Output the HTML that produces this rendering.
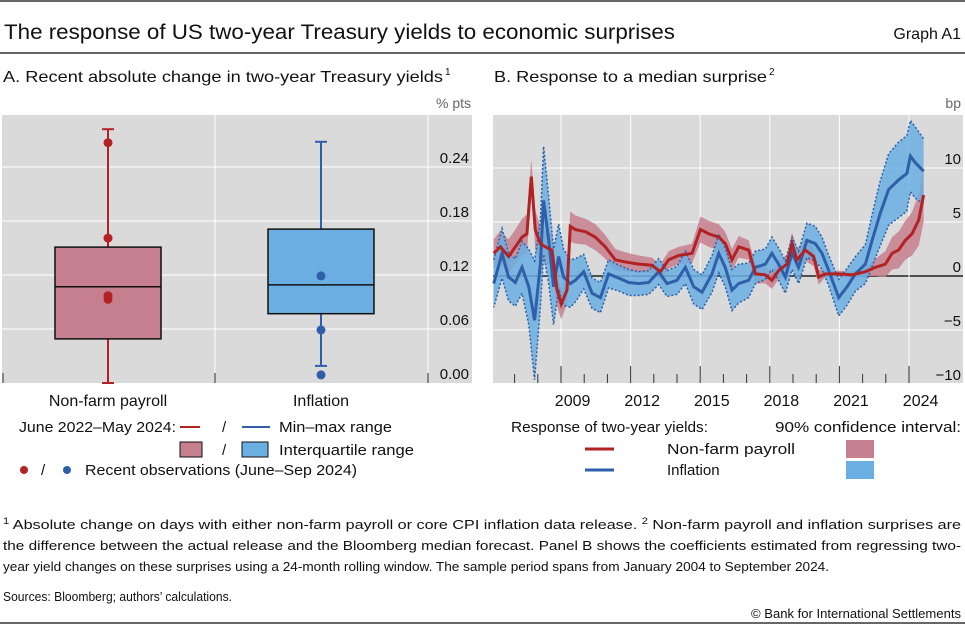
<!DOCTYPE html>
<html><head><meta charset="utf-8"><style>
body{margin:0;background:#fff}
svg{display:block;font-family:"Liberation Sans",sans-serif}
</style></head><body>
<svg id="c" width="965" height="625" viewBox="0 0 965 625">
<line x1="0" y1="1" x2="965" y2="1" stroke="#333" stroke-width="1.5"/>
<text x="4" y="39" font-size="21" textLength="671" lengthAdjust="spacingAndGlyphs" fill="#111">The response of US two-year Treasury yields to economic surprises</text>
<text x="961" y="39" font-size="16" text-anchor="end" fill="#111">Graph A1</text>
<line x1="0" y1="53" x2="965" y2="53" stroke="#333" stroke-width="1.5"/>
<text x="3" y="82" font-size="16" textLength="440" lengthAdjust="spacingAndGlyphs" fill="#111">A. Recent absolute change in two-year Treasury yields</text>
<text x="445" y="75" font-size="10" fill="#111">1</text>
<text x="494" y="82" font-size="16" textLength="273" lengthAdjust="spacingAndGlyphs" fill="#111">B. Response to a median surprise</text>
<text x="769" y="75" font-size="10" fill="#111">2</text>
<text x="471" y="108" font-size="14" text-anchor="end" fill="#666">% pts</text>
<text x="961" y="108" font-size="14" text-anchor="end" fill="#666">bp</text>
<g id="pa"></g><g id="pb"></g>
<g font-size="15" fill="#111">
<text x="19" y="432" textLength="157" lengthAdjust="spacingAndGlyphs">June 2022–May 2024:</text>
<line x1="180" y1="427" x2="200" y2="427" stroke="#b22222" stroke-width="2"/>
<text x="222" y="432">/</text>
<line x1="242" y1="427" x2="270" y2="427" stroke="#2e5fa8" stroke-width="2"/>
<text x="279" y="432" textLength="113" lengthAdjust="spacingAndGlyphs">Min–max range</text>
<rect x="180" y="442" width="22" height="15" fill="#c57f8e" stroke="#111"/>
<text x="222" y="455">/</text>
<rect x="242" y="442" width="26" height="15" fill="#6aaee2" stroke="#111"/>
<text x="279" y="455" textLength="135" lengthAdjust="spacingAndGlyphs">Interquartile range</text>
<circle cx="24" cy="470" r="4" fill="#b22222"/>
<text x="41" y="475">/</text>
<circle cx="67" cy="470" r="4" fill="#2e5fa8"/>
<text x="85" y="475" textLength="272" lengthAdjust="spacingAndGlyphs">Recent observations (June–Sep 2024)</text>
</g>
<g font-size="15" fill="#111">
<text x="511" y="432" textLength="197" lengthAdjust="spacingAndGlyphs">Response of two-year yields:</text>
<text x="775" y="432" textLength="186" lengthAdjust="spacingAndGlyphs">90% confidence interval:</text>
<line x1="585" y1="449" x2="614" y2="449" stroke="#b22222" stroke-width="3"/>
<text x="667" y="454" textLength="128" lengthAdjust="spacingAndGlyphs">Non-farm payroll</text>
<rect x="846" y="440" width="28" height="18" fill="#c57f8e"/>
<line x1="585" y1="470" x2="614" y2="470" stroke="#2e5fa8" stroke-width="3"/>
<text x="667" y="475">Inflation</text>
<rect x="846" y="461" width="28" height="18" fill="#6aaee2"/>
</g>
<g font-size="13" fill="#111">
<text x="3" y="529" textLength="958" lengthAdjust="spacingAndGlyphs"><tspan font-size="9" dy="-5">1</tspan><tspan dy="5">  Absolute change on days with either non-farm payroll or core CPI inflation data release.   </tspan><tspan font-size="9" dy="-5">2</tspan><tspan dy="5">  Non-farm payroll and inflation surprises are</tspan></text>
<text x="3" y="550" textLength="958" lengthAdjust="spacingAndGlyphs">the difference between the actual release and the Bloomberg median forecast. Panel B shows the coefficients estimated from regressing two-</text>
<text x="3" y="571" textLength="826" lengthAdjust="spacingAndGlyphs">year yield changes on these surprises using a 24-month rolling window. The sample period spans from January 2004 to September 2024.</text>
<text x="3" y="601" textLength="229" lengthAdjust="spacingAndGlyphs">Sources: Bloomberg; authors’ calculations.</text>
<text x="961" y="618" text-anchor="end" textLength="210" lengthAdjust="spacingAndGlyphs">© Bank for International Settlements</text>
</g>
<line x1="0" y1="623" x2="965" y2="623" stroke="#333" stroke-width="1.5"/>
</svg>
<script>
// Panel A data
const catsA=["Non-farm payroll","Inflation"];
const minA=[0.0,0.019];
const maxA=[0.282,0.268];
const q1A=[0.049,0.077];
const q3A=[0.151,0.171];
const medA=[0.107,0.109];
const obsNfp=[0.267,0.161,0.097,0.093];
const obsInf=[0.119,0.059,0.009];
const ticksA=[0,0.06,0.12,0.18,0.24];
// Panel B data
const nfpYears=[2006.10,2006.39,2006.74,2007.03,2007.32,2007.53,2007.72,2007.89,2008.11,2008.32,2008.61,2008.83,2009.01,2009.26,2009.40,2009.62,2010.05,2010.48,2010.91,2011.34,2011.77,2012.35,2012.92,2013.28,2013.64,2014.07,2014.65,2015.01,2015.37,2015.80,2016.08,2016.37,2016.66,2017.09,2017.38,2017.81,2018.09,2018.38,2018.74,2018.96,2019.17,2019.53,2019.89,2020.11,2020.39,2020.97,2021.54,2022.12,2022.55,2022.98,2023.27,2023.55,2023.84,2024.13,2024.42,2024.63];
const nfpVals=[2.1,2.7,1.8,2.7,3.6,3.9,9.2,4.3,3.0,2.7,2.4,-1.3,-2.6,-1.3,4.6,4.3,4.1,3.6,2.7,1.5,1.3,1.1,1.0,0.4,1.5,1.9,2.1,4.3,3.9,3.6,3.0,1.5,2.7,2.4,0.2,0.1,-0.4,0.5,1.1,3.0,1.5,2.4,1.8,-0.1,0.2,0.2,0.1,0.4,0.8,1.1,2.1,2.4,3.3,3.9,5.2,7.5];
const nfpHalf=[1.3,1.5,1.6,1.6,1.7,1.8,1.6,1.8,1.6,1.5,1.5,1.5,1.4,1.3,1.4,1.3,1.2,1.2,1.1,1.0,0.9,0.8,0.7,0.7,0.8,0.8,0.9,1.2,1.2,1.2,1.1,1.0,1.0,0.9,0.9,0.8,0.8,0.8,0.9,1.0,1.0,1.0,0.9,0.7,0.3,0.3,0.3,0.4,0.8,1.2,1.5,1.7,1.8,2.0,2.4,2.5];
const infYears=[2006.10,2006.46,2006.74,2007.03,2007.32,2007.61,2007.86,2008.11,2008.25,2008.47,2008.68,2008.90,2009.11,2009.40,2009.62,2009.98,2010.34,2010.70,2011.05,2011.49,2011.92,2012.35,2012.78,2013.21,2013.57,2014.00,2014.36,2014.72,2015.08,2015.51,2015.80,2016.08,2016.37,2016.66,2017.09,2017.38,2017.81,2018.09,2018.38,2018.67,2018.96,2019.24,2019.60,2019.96,2020.25,2020.54,2020.97,2021.33,2021.69,2022.12,2022.41,2022.76,2023.12,2023.55,2023.91,2024.06,2024.27,2024.63];
const infVals=[-0.7,2.1,-0.1,-0.6,0.8,-1.0,-4.1,1.1,7.0,3.3,-1.0,1.8,-0.1,-0.7,-0.4,0.4,-1.6,-2.0,0.2,-0.2,-0.6,-0.7,-0.6,0.4,-0.7,-0.4,0.8,-1.0,-1.5,0.2,2.1,0.8,-1.3,-0.7,-0.4,0.8,1.1,2.1,1.1,-0.1,2.1,0.8,3.3,3.0,2.1,0.5,-2.0,-1.0,0.2,1.1,3.3,5.8,8.0,8.9,9.5,11.1,10.5,9.7];
const infHalf=[2.2,2.3,2.2,2.2,2.4,3.5,5.5,4.0,5.0,4.0,3.5,3.0,2.6,2.2,2.0,1.6,1.4,1.4,1.3,1.2,1.2,1.1,1.1,1.2,1.2,1.3,1.5,1.6,1.6,1.7,1.8,1.8,1.9,1.8,1.6,1.5,1.4,1.5,1.5,1.5,1.5,1.5,1.6,1.6,1.5,1.4,1.7,1.7,1.6,1.8,2.4,3.0,3.3,3.5,3.5,3.3,3.3,3.0];
const ticksB=[-10,-5,0,5,10];
const yearLabels=[2009,2012,2015,2018,2021,2024];

const NS="http://www.w3.org/2000/svg";
function mk(parent,tag,attrs){const e=document.createElementNS(NS,tag);for(const k in attrs)e.setAttribute(k,attrs[k]);parent.appendChild(e);return e;}

// ---- Panel A
const pa=document.getElementById('pa');
const yA=v=>383-v*900;
const bg=mk(pa,'rect',{x:2,y:115,width:470,height:268,fill:'#dadada'});


ticksA.forEach(t=>{
  if(t>0){const l=mk(pa,'line',{x1:2,x2:472,y1:yA(t),y2:yA(t),stroke:'#fff','stroke-width':1});
  
  }
  const tx=mk(pa,'text',{x:469,y:yA(t)-4,'font-size':15,'text-anchor':'end',fill:'#111'});
  
  
  tx.textContent=t.toFixed(2);
});
[215,428].forEach(x=>{const l=mk(pa,'line',{x1:x,x2:x,y1:115,y2:383,stroke:'#fff','stroke-width':1});
  
  
  mk(pa,'line',{x1:x,x2:x,y1:373,y2:383,stroke:'#333'});});
mk(pa,'line',{x1:3,x2:3,y1:373,y2:383,stroke:'#333'});
const centers=[108,321],cols=['#b22222','#2e5fa8'],fills=['#c57f8e','#6aaee2'];
const obsAll=[obsNfp,obsInf];
catsA.forEach((c,i)=>{
  const cx=centers[i];
  const w=mk(pa,'line',{x1:cx,x2:cx,y1:yA(minA[i]),y2:yA(maxA[i]),stroke:cols[i],'stroke-width':2});
  
  
  [minA[i],maxA[i]].forEach(v=>mk(pa,'line',{x1:cx-6,x2:cx+6,y1:yA(v),y2:yA(v),stroke:cols[i],'stroke-width':2}));
  const b=mk(pa,'rect',{x:cx-53,y:yA(q3A[i]),width:106,height:yA(q1A[i])-yA(q3A[i]),fill:fills[i],stroke:'#111','stroke-width':1.5});
  
  
  mk(pa,'line',{x1:cx-53,x2:cx+53,y1:yA(medA[i]),y2:yA(medA[i]),stroke:'#111','stroke-width':1.5});
  obsAll[i].forEach(v=>{const d=mk(pa,'circle',{cx:cx,cy:yA(v),r:4.5,fill:cols[i]});
    
    });
  const l=mk(pa,'text',{x:cx,y:406,'font-size':16,'text-anchor':'middle',fill:'#111'});
  
  
  l.textContent=c;
});

// ---- Panel B
const pb=document.getElementById('pb');
const xB=yr=>561+(yr-2009)*23.2;
const yB=v=>276-v*10.8;
const bgb=mk(pb,'rect',{x:493,y:115,width:470,height:268,fill:'#dadada'});


ticksB.forEach(t=>{
  if(t>-10){const l=mk(pb,'line',{x1:493,x2:963,y1:yB(t),y2:yB(t),stroke:t===0?'#222':'#fff','stroke-width':t===0?1.5:1});
  
  }
  const tx=mk(pb,'text',{x:961,y:yB(t)-4,'font-size':15,'text-anchor':'end',fill:'#111'});
  
  
  tx.textContent=t<0?'−'+Math.abs(t):String(t);
});
for(let y=2007;y<=2024;y++){
  const major=yearLabels.includes(y);
  if(major) mk(pb,'line',{x1:xB(y),x2:xB(y),y1:115,y2:383,stroke:'#fff'});
  mk(pb,'line',{x1:xB(y),x2:xB(y),y1:major?366:374,y2:383,stroke:'#333'});
}
yearLabels.forEach(y=>{const t=mk(pb,'text',{x:xB(y+0.5),y:406,'font-size':16,'text-anchor':'middle',fill:'#111'});
  
  
  t.textContent=y;});
function band(ys,vs,hs,fill,name,dotted){
  const up=ys.map((y,i)=>xB(y)+','+yB(vs[i]+hs[i]));
  const lo=ys.map((y,i)=>xB(y)+','+yB(vs[i]-hs[i])).reverse();
  const p=mk(pb,'polygon',{points:up.concat(lo).join(' '),fill:fill,'fill-opacity':0.85});
  
  
  if(dotted){
    mk(pb,'polyline',{points:up.join(' '),fill:'none',stroke:'#2e5fa8','stroke-width':1.5,'stroke-dasharray':'2 2'});
    mk(pb,'polyline',{points:lo.join(' '),fill:'none',stroke:'#2e5fa8','stroke-width':1.5,'stroke-dasharray':'2 2'});
  }
}
band(nfpYears,nfpVals,nfpHalf,'#c57f8e','nfp-confidence-band',false);
band(infYears,infVals,infHalf,'#6aaee2','inflation-confidence-band',true);
const l1=mk(pb,'polyline',{points:infYears.map((y,i)=>xB(y)+','+yB(infVals[i])).join(' '),fill:'none',stroke:'#2e5fa8','stroke-width':3});


const l2=mk(pb,'polyline',{points:nfpYears.map((y,i)=>xB(y)+','+yB(nfpVals[i])).join(' '),fill:'none',stroke:'#b22222','stroke-width':3});


</script>
</body></html>
